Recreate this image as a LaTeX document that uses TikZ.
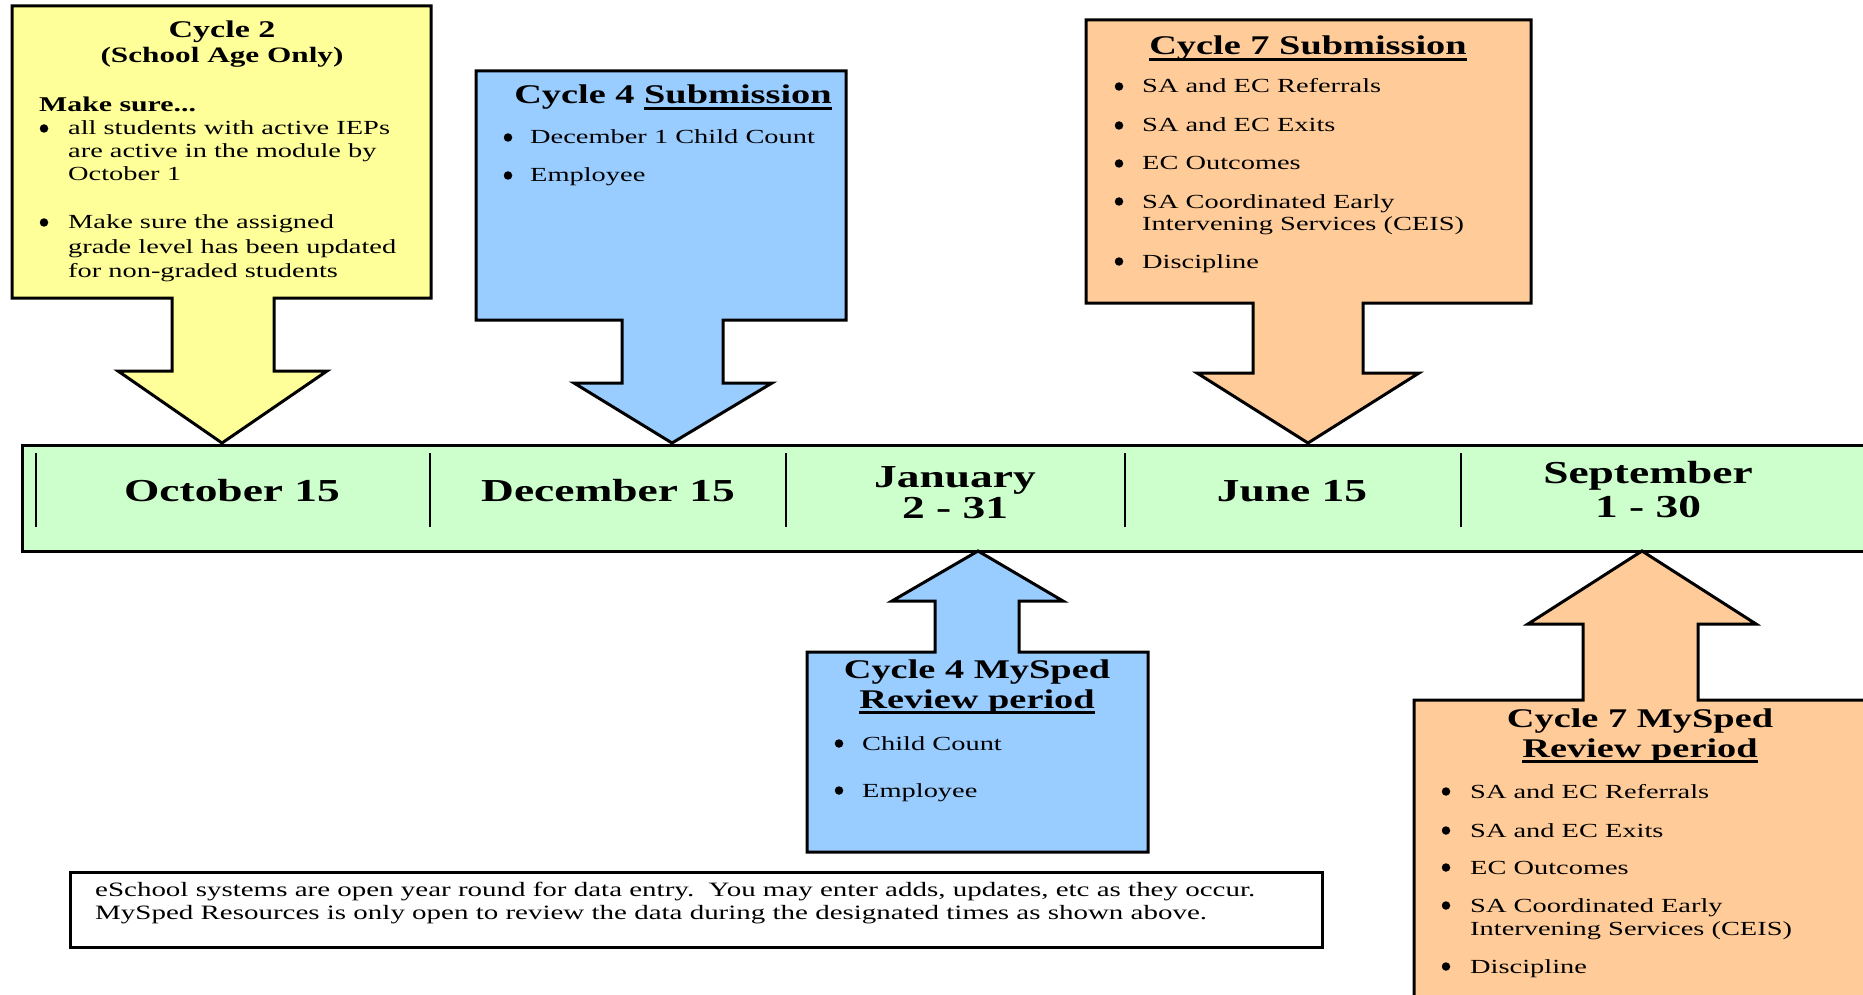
\documentclass[tikz,border=0pt]{standalone}
\usepackage{fontspec}
\setmainfont{Liberation Serif}[FakeStretch=1.42]
\definecolor{yellowF}{HTML}{FFFF99}
\definecolor{blueF}{HTML}{99CCFF}
\definecolor{orangeF}{HTML}{FFCC99}
\definecolor{greenF}{HTML}{CCFFCC}
\newsavebox\ulbox
\newcommand\myul[1]{\sbox\ulbox{#1}\rlap{\rule[-6pt]{\wd\ulbox}{3pt}}\usebox\ulbox}
\begin{document}
\begin{tikzpicture}[x=1pt,y=-1pt,
  callout/.style={draw=black,line width=3pt,line join=miter},
  tick/.style={draw=black,line width=2pt},
  body/.style={inner sep=0pt,anchor=base west,font=\fontsize{20}{23}\selectfont},
  dot/.style={circle,fill=black,inner sep=0pt,minimum size=8.5pt,yshift=6.5pt},
  ttl/.style={inner sep=0pt,anchor=base,font=\fontsize{27}{31}\selectfont\bfseries},
  notetxt/.style={inner sep=0pt,anchor=base west,font=\fontsize{20.4}{24}\selectfont},
  datelbl/.style={inner sep=0pt,anchor=base,font=\fontsize{32}{36}\selectfont\bfseries}]
\useasboundingbox (0,0) rectangle (1863,995);
\clip (0,0) rectangle (1863,995);
\fill[white] (0,0) rectangle (1863,995);

% timeline
\node (tl) [draw=black,fill=greenF,line width=2.5pt,minimum width=1859pt,minimum height=106pt,inner sep=0pt,anchor=north west] at (21,444) {};
\draw[tick] (36,453) -- (36,527);
\draw[tick] (430,453) -- (430,527);
\draw[tick] (786,453) -- (786,527);
\draw[tick] (1125,453) -- (1125,527);
\draw[tick] (1461,453) -- (1461,527);

\coordinate (t1) at (222,443);
\coordinate (t2) at (672,443);
\coordinate (t3) at (1308,443);
\coordinate (t4) at (978,551);
\coordinate (t5) at (1642,551);

% callouts
\draw[callout,fill=yellowF] (12,6) -- (431,6) -- (431,298) -- (274,298) -- (274,371) -- (327,371) -- (t1) -- (118,371) -- (172,371) -- (172,298) -- (12,298) -- cycle;
\draw[callout,fill=blueF] (476,71) -- (846,71) -- (846,320) -- (723,320) -- (723,383) -- (772,383) -- (t2) -- (574,383) -- (622,383) -- (622,320) -- (476,320) -- cycle;
\draw[callout,fill=orangeF] (1086,20) -- (1531,20) -- (1531,303) -- (1363,303) -- (1363,373) -- (1419,373) -- (t3) -- (1197,373) -- (1253,373) -- (1253,303) -- (1086,303) -- cycle;
\draw[callout,fill=blueF] (807,852) -- (1148,852) -- (1148,652) -- (1019,652) -- (1019,601) -- (1063,601) -- (t4) -- (892,601) -- (935,601) -- (935,652) -- (807,652) -- cycle;
\draw[callout,fill=orangeF] (1414,1010) -- (1890,1010) -- (1890,700) -- (1698,700) -- (1698,624) -- (1756,624) -- (t5) -- (1528,624) -- (1583,624) -- (1583,700) -- (1414,700) -- cycle;

% timeline labels
\node[datelbl] (d1) at (232,501) {October 15};
\node[datelbl] (d2) at (608,501) {December 15};
\node[datelbl] (d3a) at (955,487) {January};
\node[datelbl] (d3b) at (955,518) {2 - 31};
\node[datelbl] (d4) at (1292,501) {June 15};
\node[datelbl] (d5a) at (1648,483) {September};
\node[datelbl] (d5b) at (1648,517) {1 - 30};

% Cycle 2
\node[ttl,font=\fontsize{24}{28}\selectfont\bfseries] (c2t) at (222,38) {Cycle 2};
\node[ttl,font=\fontsize{22}{26}\selectfont\bfseries] (c2s) at (222,63) {(School Age Only)};
\node[body,font=\fontsize{21}{24}\selectfont\bfseries] (c2m) at (39,112) {Make sure...};
\node[dot] (c2d1) at (44,135) {};
\node[body] (c2a1) at (68,135) {all students with active IEPs};
\node[body] (c2a2) at (68,158) {are active in the module by};
\node[body] (c2a3) at (68,181) {October 1};
\node[dot] (c2d2) at (44,229) {};
\node[body] (c2b1) at (68,229) {Make sure the assigned};
\node[body] (c2b2) at (68,253) {grade level has been updated};
\node[body] (c2b3) at (68,277) {for non-graded students};

% Cycle 4 submission
\node[ttl] (c4t) at (673,104) {Cycle 4 \myul{Submission}};
\node[dot] (c4d1) at (508,144) {};
\node[body] (c4a) at (530,144) {December 1 Child Count};
\node[dot] (c4d2) at (508,182) {};
\node[body] (c4b) at (530,182) {Employee};

% Cycle 7 submission
\node[ttl] (c7t) at (1308,55) {\myul{Cycle 7 Submission}};
\node[dot] (c7d1) at (1119,93) {};
\node[body] (c7a) at (1142,93) {SA and EC Referrals};
\node[dot] (c7d2) at (1119,132) {};
\node[body] (c7b) at (1142,132) {SA and EC Exits};
\node[dot] (c7d3) at (1119,170) {};
\node[body] (c7c) at (1142,170) {EC Outcomes};
\node[dot] (c7d4) at (1119,208) {};
\node[body] (c7d) at (1142,208) {SA Coordinated Early};
\node[body] (c7d') at (1142,231) {Intervening Services (CEIS)};
\node[dot] (c7d5) at (1119,268) {};
\node[body] (c7e) at (1142,268) {Discipline};

% Cycle 4 review
\node[ttl] (r4t) at (977,678) {Cycle 4 MySped};
\node[ttl] (r4s) at (977,708) {\myul{Review period}};
\node[dot] (r4d1) at (839,750) {};
\node[body] (r4a) at (862,750) {Child Count};
\node[dot] (r4d2) at (839,797) {};
\node[body] (r4b) at (862,797) {Employee};

% Cycle 7 review
\node[ttl] (r7t) at (1640,727) {Cycle 7 MySped};
\node[ttl] (r7s) at (1640,757) {\myul{Review period}};
\node[dot] (r7d1) at (1446,798) {};
\node[body] (r7a) at (1470,798) {SA and EC Referrals};
\node[dot] (r7d2) at (1446,837) {};
\node[body] (r7b) at (1470,837) {SA and EC Exits};
\node[dot] (r7d3) at (1446,874) {};
\node[body] (r7c) at (1470,874) {EC Outcomes};
\node[dot] (r7d4) at (1446,912) {};
\node[body] (r7d) at (1470,912) {SA Coordinated Early};
\node[body] (r7d') at (1470,935) {Intervening Services (CEIS)};
\node[dot] (r7d5) at (1446,973) {};
\node[body] (r7e) at (1470,973) {Discipline};

% note box
\node (note) [draw=black,fill=white,line width=3pt,minimum width=1252pt,minimum height=75pt,inner sep=0pt,anchor=north west] at (69,871) {};
\node[notetxt] (n1) at (95,896) {eSchool systems are open year round for data entry.\ \ You may enter adds, updates, etc as they occur.};
\node[notetxt] (n2) at (95,919) {MySped Resources is only open to review the data during the designated times as shown above.};
\end{tikzpicture}
\end{document}
